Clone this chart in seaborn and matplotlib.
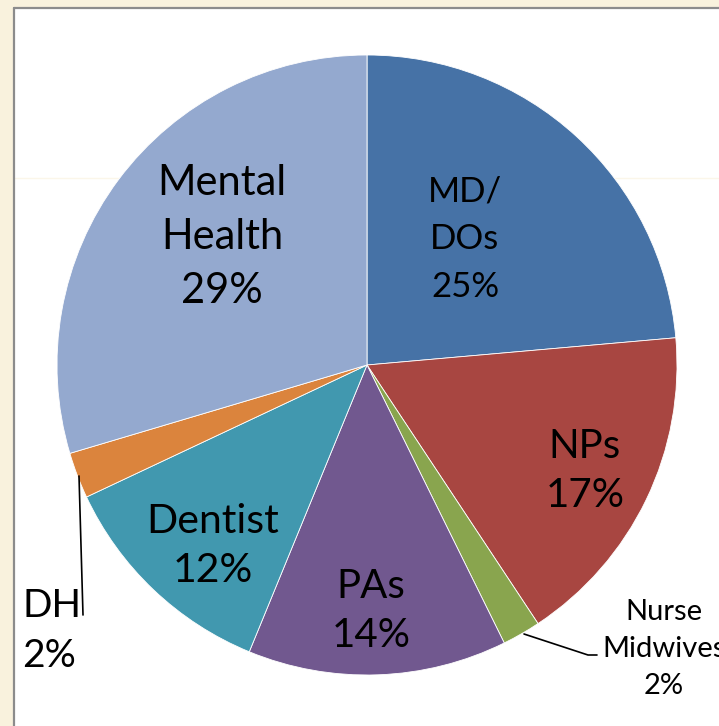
import seaborn as sns
import matplotlib.pyplot as plt
from matplotlib.patches import Rectangle

sns.set_theme(style="white")
plt.rcParams['font.family'] = ['Lato', 'DejaVu Sans']

# slices, clockwise from 12 o'clock
groups = ['MD/\nDOs', 'NPs', 'Nurse\nMidwives', 'PAs', 'Dentist', 'DH', 'Mental\nHealth']
shares = [23.6, 17.1, 2.0, 13.5, 11.8, 2.4, 29.6]
pct_labels = ['25%', '17%', '2%', '14%', '12%', '2%', '29%']
colors = ['#4672A6', '#A84641', '#89A54E', '#71588F', '#4198AF', '#DB843D', '#94A9CF']

W, H = 719, 726
cx, cy, R = 367, 365, 310

fig = plt.figure(figsize=(W / 100, H / 100), dpi=100)
fig.patch.set_facecolor('#F9F2DD')

# white chart panel with grey frame on the left and top
fig.add_artist(Rectangle((14 / W, 0), 1, (H - 8) / H, transform=fig.transFigure,
                         facecolor='white', edgecolor='none', zorder=-10))
fig.add_artist(plt.Line2D([15 / W, 1], [(H - 178) / H, (H - 178) / H], color='#FBF6E9', lw=1,
                          transform=fig.transFigure, zorder=-9))
fig.add_artist(plt.Line2D([14 / W, 14 / W], [0, (H - 8) / H], color='#8C8C8C', lw=1.6,
                          transform=fig.transFigure, zorder=-9))
fig.add_artist(plt.Line2D([14 / W, 1], [(H - 8) / H, (H - 8) / H], color='#8C8C8C', lw=1.6,
                          transform=fig.transFigure, zorder=-9))

ax = fig.add_axes([0, 0, 1, 1])
ax.set_facecolor('none')
ax.pie(shares, colors=colors, startangle=90, counterclock=False, radius=1,
       wedgeprops=dict(edgecolor='white', linewidth=0.6))
ax.set_xlim(-cx / R, (W - cx) / R)
ax.set_ylim(-(H - cy) / R, cy / R)
ax.set_aspect('auto')
ax.axis('off')


def px(x, y):
    return (x - cx) / R, (cy - y) / R


# label placement in pixel space of the reference
label_pos = [(465, 239), (585, 471), (664, 649), (371, 611), (213, 546), (22, 631), (222, 237)]
sizes = [25, 29, 21, 29, 29.5, 28, 30]
spacing = [1.6, 1.4, 1.52, 1.4, 1.43, 1.45, 1.52]
for i, (g, p) in enumerate(zip(groups, pct_labels)):
    x, y = px(*label_pos[i])
    ha = 'left' if g == 'DH' else 'center'
    ax.text(x, y, g + '\n' + p, ha=ha, va='center', fontsize=sizes[i],
            linespacing=spacing[i], color='black')

# leader lines for the two thin slices
ax.plot(*zip(px(79, 476), px(83, 615)), color='black', lw=1.2)
ax.plot(*zip(px(524, 634), px(588, 655), px(597, 655)), color='black', lw=1.2)

fig.savefig('out.png', dpi=100, facecolor=fig.get_facecolor())
